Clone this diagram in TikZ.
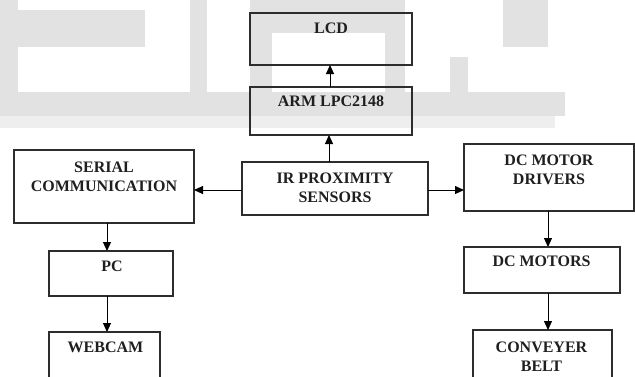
\documentclass[tikz,border=0pt]{standalone}
\usepackage{fontspec}
\setmainfont{Liberation Serif}
\usetikzlibrary{arrows.meta}
\definecolor{wm}{RGB}{226,226,226}
\definecolor{wmlight}{RGB}{238,238,238}
\definecolor{ln}{RGB}{45,45,45}
\begin{document}
\begin{tikzpicture}[x=1pt,y=-1pt,
  box/.style={draw=ln, line width=1.1pt, inner sep=0pt, outer sep=0pt},
  lbl/.style={anchor=north, inner sep=0pt, align=center,
              font=\bfseries\fontsize{16}{19}\selectfont, text=black!88},
  arr/.style={draw=black, line width=1pt, -{Triangle[length=9pt,width=8pt]}},
  wmark/.style={fill=wm, draw=none},
  wmarkl/.style={fill=wmlight, draw=none}]
\useasboundingbox (0,0) rectangle (635,376);
\clip (0,0) rectangle (635,376);
% faint watermark
\fill[wmark] (0,0) rectangle (18,118);
\fill[wmark] (3,10) rectangle (145,47);
\fill[wmark] (190,0) rectangle (207,92);
\fill[wmark] (250,0) rectangle (405,33);
\fill[wmark] (250,33) rectangle (272,92);
\fill[wmark] (385,0) rectangle (405,92);
\fill[wmark] (503,0) rectangle (548,47);
\fill[wmark] (450,57) rectangle (468,92);
\fill[wmark] (0,92) rectangle (565,116);
\fill[wmarkl] (0,116) rectangle (555,128);
% boxes
\node[box, minimum width=162, minimum height=52] (lcd) at (331,39) {};
\node[box, minimum width=162, minimum height=48] (arm) at (331,111) {};
\node[box, minimum width=186, minimum height=53] (ir) at (335,188.5) {};
\node[box, minimum width=180, minimum height=73] (serial) at (104,186.5) {};
\node[box, minimum width=124, minimum height=45] (pc) at (111,273.5) {};
\node[box, minimum width=111, minimum height=68] (webcam) at (104.5,366) {};
\node[box, minimum width=170, minimum height=67] (dcmd) at (549,177.5) {};
\node[box, minimum width=156, minimum height=46] (dcm) at (542,270) {};
\node[box, minimum width=139, minimum height=70] (conv) at (542.5,365) {};
% labels
\node[lbl] (lcdT) at (331,22.5) {LCD};
\node[lbl] (armT) at (331,95.5) {ARM LPC2148};
\node[lbl] (irT) at (335,172.5) {IR PROXIMITY\\SENSORS};
\node[lbl] (serialT) at (104,161.5) {SERIAL\\COMMUNICATION};
\node[lbl] (pcT) at (112,260.5) {PC};
\node[lbl] (webcamT) at (105.5,341.5) {WEBCAM};
\node[lbl] (dcmdT) at (549,154.5) {DC MOTOR\\DRIVERS};
\node[lbl] (dcmT) at (541.5,255.5) {DC MOTORS};
\node[lbl] (convT) at (541.5,341.5) {CONVEYER\\BELT};
% connectors
\draw[arr] ([xshift=-1pt]arm.north) -- ([xshift=-1pt]lcd.south);
\draw[arr] ([xshift=-2pt]arm.south |- ir.north) -- ([xshift=-2pt]arm.south);
\draw[arr] ([yshift=-1.5pt]ir.west) -- ([yshift=-1.5pt]ir.west -| serial.east);
\draw[arr] ([yshift=-1.5pt]ir.east) -- ([yshift=-1.5pt]ir.east -| dcmd.west);
\draw[arr] ([xshift=3pt]serial.south) -- ([xshift=3pt]serial.south |- pc.north);
\draw[arr] ([xshift=-4pt]pc.south) -- ([xshift=-4pt]pc.south |- webcam.north);
\draw[arr] ([xshift=-1pt]dcmd.south) -- ([xshift=-1pt]dcmd.south |- dcm.north);
\draw[arr] ([xshift=6pt]dcm.south) -- ([xshift=6pt]dcm.south |- conv.north);
\end{tikzpicture}
\end{document}
